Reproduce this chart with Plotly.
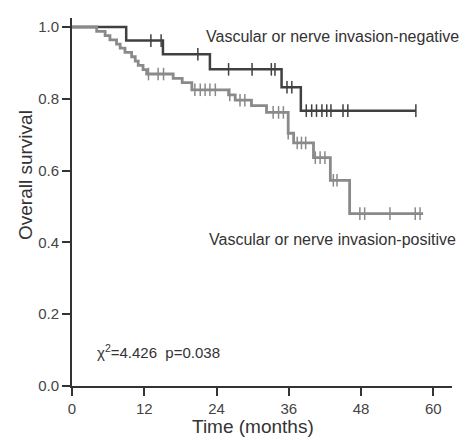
import plotly.graph_objects as go
import bisect

# ---- data ----
neg_step_t = [0, 9.0, 15.1, 22.9, 34.8, 38.0]
neg_step_s = [1.0, 0.962, 0.924, 0.882, 0.832, 0.767]
neg_end_t = 57.1
neg_censor_t = [13.1, 14.8, 20.9, 26.0, 29.9, 33.1, 33.7, 35.7, 36.5, 38.9, 39.8,
                40.6, 41.5, 42.3, 43.0, 45.0, 45.8, 57.1]

pos_step_t = [0, 4.1, 5.5, 6.3, 7.4, 8.0, 8.8, 9.9, 10.5, 11.0, 11.8, 12.4, 16.8,
              18.3, 19.9, 26.0, 27.1, 29.8, 32.3, 35.9, 36.8, 40.1, 42.9, 46.1]
pos_step_s = [1.0, 0.988, 0.976, 0.964, 0.952, 0.941, 0.929, 0.917, 0.905, 0.893,
              0.881, 0.869, 0.857, 0.845, 0.825, 0.811, 0.796, 0.781, 0.762, 0.704,
              0.677, 0.636, 0.573, 0.480]
pos_end_t = 58.3
pos_censor_t = [12.7, 14.3, 15.2, 20.4, 21.3, 22.1, 22.9, 23.8, 26.2, 27.9, 28.7,
                33.4, 34.3, 35.1, 35.9, 37.4, 38.1, 38.8, 40.4, 41.2, 42.0, 43.4,
                44.0, 47.8, 48.6, 52.8, 57.0, 57.8]

x_ticks = [0, 12, 24, 36, 48, 60]
y_ticks = [0.0, 0.2, 0.4, 0.6, 0.8, 1.0]

label_neg = "Vascular or nerve invasion-negative"
label_pos = "Vascular or nerve invasion-positive"
stat_text = "\u03c7<sup>2</sup>=4.426\u00a0\u00a0p=0.038"
x_title = "Time (months)"
y_title = "Overall survival"


def surv_at(step_t, step_s, t):
    i = bisect.bisect_right(step_t, t) - 1
    return step_s[max(i, 0)]


NEG_COLOR = "#404040"
POS_COLOR = "#8a8a8a"
FONT = "Liberation Sans, Arial, sans-serif"

fig = go.Figure()

for step_t, step_s, end_t, cens, color, lw in [
    (neg_step_t, neg_step_s, neg_end_t, neg_censor_t, NEG_COLOR, 2.5),
    (pos_step_t, pos_step_s, pos_end_t, pos_censor_t, POS_COLOR, 2.8),
]:
    fig.add_trace(go.Scatter(
        x=step_t + [end_t], y=step_s + [step_s[-1]],
        mode="lines", line=dict(shape="hv", color=color, width=lw),
        hoverinfo="skip", showlegend=False))
    fig.add_trace(go.Scatter(
        x=cens, y=[surv_at(step_t, step_s, t) for t in cens],
        mode="markers",
        marker=dict(symbol="line-ns", size=9, line=dict(color=color, width=1.5)),
        hoverinfo="skip", showlegend=False))

axis_common = dict(
    showline=True, linecolor="#333333", linewidth=2,
    ticks="outside", ticklen=8, tickwidth=2, tickcolor="#333333",
    showgrid=False, zeroline=False,
    tickfont=dict(family=FONT, size=15, color="#444444"),
)

fig.update_layout(
    width=462, height=437,
    margin=dict(l=72, r=10, t=18, b=51),
    paper_bgcolor="white", plot_bgcolor="white",
    font=dict(family=FONT, color="#333333"),
    xaxis=dict(range=[0, 63.1], tickvals=x_ticks, ticktext=[str(v) for v in x_ticks],
               **axis_common),
    yaxis=dict(range=[0, 1.025], tickvals=y_ticks,
               ticktext=[f"{v:.1f}" for v in y_ticks], **axis_common),
    annotations=[
        dict(x=30, y=-0.111, xref="x", yref="paper", text=x_title, showarrow=False,
             xanchor="center", yanchor="middle",
             font=dict(family=FONT, size=19, color="#333333")),
        dict(x=-0.124, y=0.573, xref="paper", yref="paper", text=y_title,
             showarrow=False, textangle=-90, xanchor="center", yanchor="middle",
             font=dict(family=FONT, size=19, color="#333333")),
        dict(x=21.9, y=0.974, xref="x", yref="y", text=label_neg, showarrow=False,
             xanchor="left", yanchor="middle",
             font=dict(family=FONT, size=16, color="#333333")),
        dict(x=22.4, y=0.409, xref="x", yref="y", text=label_pos, showarrow=False,
             xanchor="left", yanchor="middle",
             font=dict(family=FONT, size=16, color="#333333")),
        dict(x=3.8, y=0.097, xref="x", yref="y", text=stat_text, showarrow=False,
             xanchor="left", yanchor="middle",
             font=dict(family=FONT, size=15, color="#333333")),
    ],
)

fig.write_html("out.html")
